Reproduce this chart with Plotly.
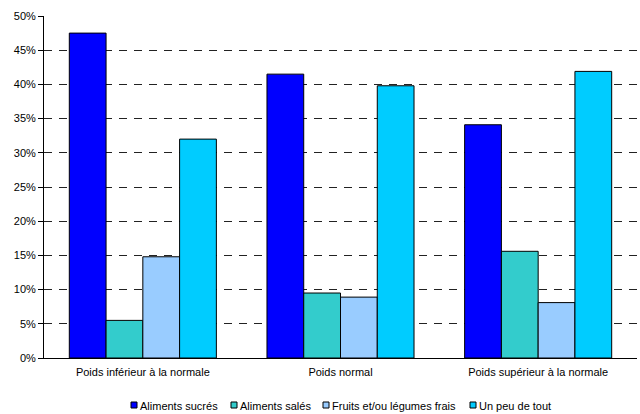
import plotly.graph_objects as go

categories = ["Poids inférieur à la normale", "Poids normal", "Poids supérieur à la normale"]
series_names = ["Aliments sucrés", "Aliments salés", "Fruits et/ou légumes frais", "Un peu de tout"]
sucres = [0.475, 0.415, 0.341]
sales = [0.055, 0.095, 0.156]
fruits = [0.148, 0.089, 0.081]
tout = [0.320, 0.398, 0.419]
colors = ["#0000FF", "#33CCCC", "#99CCFF", "#00CCFF"]
y_ticks = [0, 0.05, 0.10, 0.15, 0.20, 0.25, 0.30, 0.35, 0.40, 0.45, 0.50]

W, H = 640, 414
ML, MR, MT, MB = 44, 3, 16, 56
PW, PH = W - ML - MR, H - MT - MB

def px_x(px):
    return (px - ML) / PW

def px_y(py):
    return (H - MB - py) / PH

fig = go.Figure()
for name, vals, col in zip(series_names, [sucres, sales, fruits, tout], colors):
    fig.add_trace(go.Bar(x=categories, y=vals, name=name, marker_color=col,
                         marker_line_color="black", marker_line_width=1))

# manual legend (compact, like the original)
legend_x = [131, 231, 323, 470]
shapes = []
annotations = []
for lx, name, col in zip(legend_x, series_names, colors):
    shapes.append(dict(type="rect", xref="paper", yref="paper",
                       x0=px_x(lx), x1=px_x(lx + 6), y0=px_y(408), y1=px_y(402),
                       fillcolor=col, line=dict(color="black", width=1)))
    annotations.append(dict(xref="paper", yref="paper", x=px_x(lx + 7), y=px_y(405.5),
                            xanchor="left", yanchor="middle", showarrow=False,
                            text=name, font=dict(size=11, color="black")))

fig.update_layout(
    width=W, height=H,
    margin=dict(l=ML, r=MR, t=MT, b=MB),
    paper_bgcolor="white", plot_bgcolor="white",
    barmode="group", bargap=0.256, bargroupgap=0,
    font=dict(family="Liberation Sans, Arial, sans-serif", size=11, color="black"),
    showlegend=False,
    shapes=shapes, annotations=annotations,
)
fig.update_yaxes(range=[0, 0.5], tickvals=y_ticks, tickformat=".0%",
                 showgrid=True, gridcolor="#222222", griddash="8px,7px", gridwidth=1,
                 showline=True, linecolor="black", linewidth=1,
                 ticks="outside", ticklen=5, tickcolor="black", zeroline=False,
                 tickfont=dict(size=11))
fig.update_xaxes(showline=True, linecolor="black", linewidth=1, ticks="", showgrid=False,
                 tickfont=dict(size=11), ticklabelstandoff=4)

fig.write_html("out.html")
